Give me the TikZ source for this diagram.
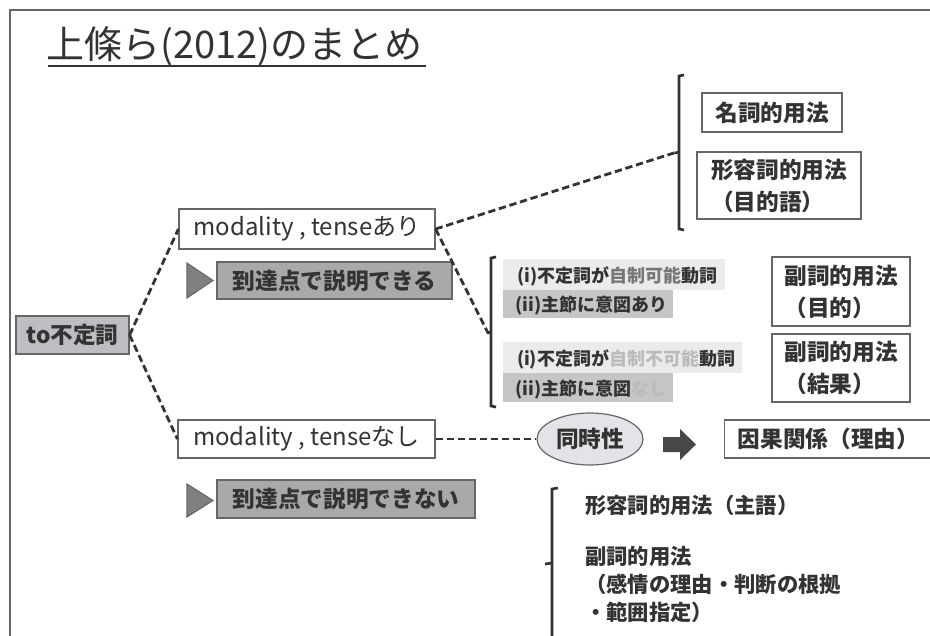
\documentclass[tikz,border=0pt]{standalone}
\usepackage{fontspec}
\setmainfont{Noto Sans CJK JP}
\usetikzlibrary{shapes.geometric}
\definecolor{txt}{HTML}{333333}
\definecolor{edge}{HTML}{666666}
\definecolor{gfill}{HTML}{BDBDC2}
\definecolor{dfill}{HTML}{A9A9AB}
\definecolor{trifill}{HTML}{808080}
\definecolor{barA}{HTML}{EBEBEB}
\definecolor{barB}{HTML}{C6C6C6}
\definecolor{ellfill}{HTML}{E4E4E8}
\definecolor{faint}{HTML}{BBBBBB}
\definecolor{mid}{HTML}{777777}
\tikzset{
  sz/.style 2 args={minimum width=#1*0.75pt, minimum height=#2*0.75pt},
  box/.style={draw=edge, line width=0.9pt, fill=white, text=txt, inner sep=0pt,
    font=\fontsize{18}{21}\selectfont},
  gbox/.style={box, fill=gfill, draw=edge, font=\bfseries\fontsize{17}{21}\selectfont},
  dbox/.style={box, fill=dfill, draw=edge, font=\bfseries\fontsize{17}{21}\selectfont},
  bar/.style={fill=#1, draw=none, text=txt, inner sep=0pt, anchor=west, align=left,
    text depth=0pt, font=\bfseries\fontsize{13.5}{16}\selectfont},
  dline/.style={draw=txt, line width=2.1pt, dash pattern=on 5.5pt off 2.8pt},
  brk/.style={draw=txt, line width=2pt},
  tri/.style={fill=trifill, draw=edge, line width=0.8pt},
  plain/.style={text=txt, inner sep=0pt, anchor=west, align=left,
    font=\bfseries\fontsize{16}{21}\selectfont},
}
\begin{document}
\begin{tikzpicture}[x=0.75pt,y=-0.75pt]
\useasboundingbox (0,0) rectangle (930,635);
\clip (0,0) rectangle (930,635);
% frame
\draw[edge, line width=1.5pt] (10,640) -- (10,10) -- (935,10);
% title
\node[text=txt, inner sep=0pt, anchor=west, font=\fontsize{28.5}{34}\selectfont] (title) at (46,46) {上條ら(2012)のまとめ};
\draw[txt, line width=1.8pt] (48,66) -- (426,66);
% left side
\node[gbox, sz={113}{38}] (inf) at (72.5,335) {to不定詞};
\node[box, sz={256}{40}] (ari) at (307,229) {modality , tenseあり};
\node[box, sz={257}{38}] (nas) at (306.5,439) {modality , tenseなし};
\draw[tri] (187,263) -- (213,280.5) -- (187,298) -- cycle;
\node[dbox, sz={235}{37}] (dek) at (334.5,280.5) {到達点で説明できる};
\draw[tri] (187,484) -- (213,500.5) -- (187,517) -- cycle;
\node[dbox, sz={258}{38}] (dekn) at (346,499) {到達点で説明できない};
% right groups
\node[box, sz={140}{39}, font=\bfseries\fontsize{17}{21}\selectfont] (meishi) at (772,112.5) {名詞的用法};
\node[box, sz={164}{67}, align=left, font=\bfseries\fontsize{17}{24}\selectfont] (keiyo) at (779,185.5) {形容詞的用法\\（目的語）};
\node[box, sz={138}{69}, align=left, font=\bfseries\fontsize{17}{24}\selectfont] (mok) at (841,291.5) {副詞的用法\\（目的）};
\node[box, sz={138}{68}, align=left, font=\bfseries\fontsize{17}{24}\selectfont] (kek) at (841,368) {副詞的用法\\（結果）};
\node[bar=barA, sz={222}{31}] (b1a) at (503,274.5) {\hspace{5pt}(i)不定詞が\textcolor{mid}{自制可能}動詞};
\node[bar=barB, sz={170}{28}] (b1b) at (503,304) {\hspace{5pt}(ii)主節に意図あり};
\node[bar=barA, sz={239}{31}] (b2a) at (503,357.5) {\hspace{5pt}(i)不定詞が\textcolor{faint}{自制不可能}動詞};
\node[bar=barB, sz={170}{29}] (b2b) at (503,387.5) {\hspace{5pt}(ii)主節に意図\textcolor{faint}{なし}};
% brackets
\draw[brk] (684,75) -- (679,76) -- (679,229) -- (684,230);
\draw[brk] (679,152) -- (675,153);
\coordinate (t1) at (677,152);
\draw[brk] (496,257) -- (491,258) -- (491,406) -- (496,407);
\draw[brk] (491,332) -- (487,333);
\coordinate (t2) at (488,333);
\draw[brk] (558,488) -- (552,489) -- (552,640);
\draw[brk] (552,563) -- (545,564);
% bottom row
\node[ellipse, draw=edge, line width=0.9pt, fill=ellfill, text=txt, inner sep=0pt, sz={106}{52},
  font=\bfseries\fontsize{17}{21}\selectfont] (ell) at (590,439) {同時性};
\draw[fill=txt!90, draw=none] (663,437) -- (680,437) -- (680,429) -- (696,444.5) -- (680,460) -- (680,452) -- (663,452) -- cycle;
\node[box, sz={216}{38}, anchor=west, text width=200*0.75pt, align=left, font=\bfseries\fontsize{17}{21}\selectfont] (inga) at (724,439) {\hspace{4pt}因果関係（理由）};
% bracket 3 texts
\node[plain] (k3) at (585,505) {形容詞的用法（主語）};
\node[plain, font=\bfseries\fontsize{16}{21}\selectfont] (f3) at (585,584) {副詞的用法\\（感情の理由・判断の根拠\\・範囲指定）};
% connectors
\draw[dline] (inf.east) -- (ari.west);
\draw[dline] (inf.east) -- (nas.west);
\draw[dline] (ari.east) -- (t1);
\draw[dline] (ari.east) -- (t2);
\draw[dline] (nas.east) -- (ell.west);
\end{tikzpicture}
\end{document}
